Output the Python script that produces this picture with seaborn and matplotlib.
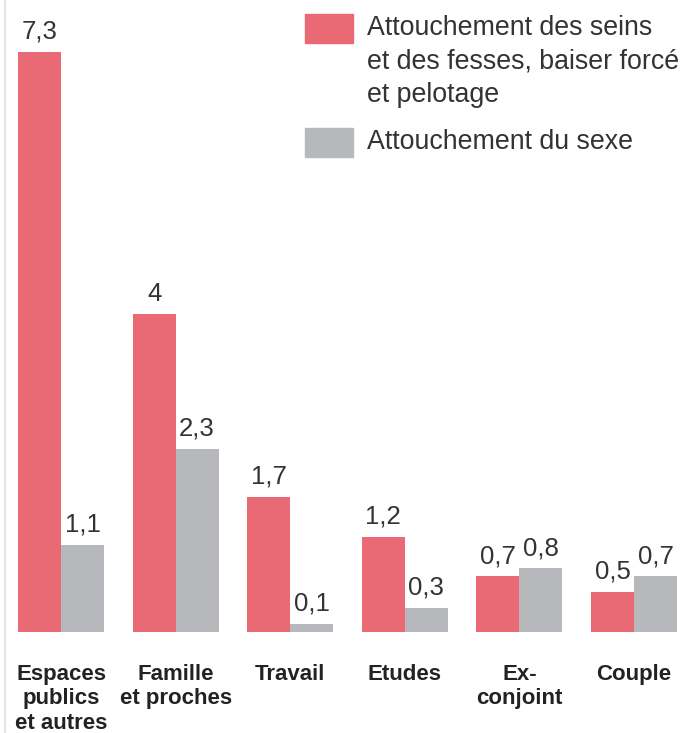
import pandas as pd
import matplotlib.pyplot as plt
import seaborn as sns
from matplotlib.patches import Rectangle
from matplotlib.lines import Line2D

CATEGORIES = ['Espaces\npublics\net autres', 'Famille\net proches', 'Travail',
              'Etudes', 'Ex-\nconjoint', 'Couple']
SERIES = ['Attouchement des seins\net des fesses, baiser forcé\net pelotage',
          'Attouchement du sexe']
SEINS = [7.3, 4, 1.7, 1.2, 0.7, 0.5]
SEXE = [1.1, 2.3, 0.1, 0.3, 0.8, 0.7]
COLORS = ['#E96A75', '#B7B8BB']

W, H = 686, 733

df = pd.DataFrame({
    'cat': CATEGORIES * 2,
    'serie': [SERIES[0]] * len(CATEGORIES) + [SERIES[1]] * len(CATEGORIES),
    'val': SEINS + SEXE,
})

sns.set_style('white')
plt.rcParams['font.family'] = ['Liberation Sans', 'DejaVu Sans']

fig = plt.figure(figsize=(W / 100, H / 100), dpi=100)
ax = fig.add_axes([5 / W, 101 / H, 1 - 5 / W, 1 - 101 / H])

sns.barplot(data=df, x='cat', y='val', hue='serie', palette=COLORS,
            width=0.75, saturation=1, linewidth=0, legend=False, ax=ax)

for cont in ax.containers:
    labels = ['{:g}'.format(v).replace('.', ',') for v in cont.datavalues]
    ax.bar_label(cont, labels=labels, padding=6, fontsize=18.5, color='#333333')

ax.set_xlim(-0.489, 5.454)
ax.set_ylim(0, 7.95)
ax.set_xlabel('')
ax.set_ylabel('')
ax.set_yticks([])
ax.tick_params(axis='x', length=0, pad=23)
ax.set_xticklabels(CATEGORIES, fontsize=16, fontweight='bold', color='#222222',
                   linespacing=1.22)
for s in ax.spines.values():
    s.set_visible(False)

# thin light rule on the left edge
fig.add_artist(Line2D([5 / W, 5 / W], [0, 1], color='#e4e4e4', lw=1.5,
                      transform=fig.transFigure))


def fx(x):
    return x / W


def fy(y):
    return 1 - y / H


# legend
legend_items = [(14, SERIES[0], COLORS[0]), (128, SERIES[1], COLORS[1])]
for top, label, col in legend_items:
    fig.add_artist(Rectangle((fx(305), fy(top + 29)), 48 / W, 29 / H,
                             color=col, transform=fig.transFigure))
    fig.text(fx(367), fy(top + 1), label, fontsize=19.3, color='#333333',
             va='top', ha='left', linespacing=1.37)

fig.savefig('out.png', dpi=100)
